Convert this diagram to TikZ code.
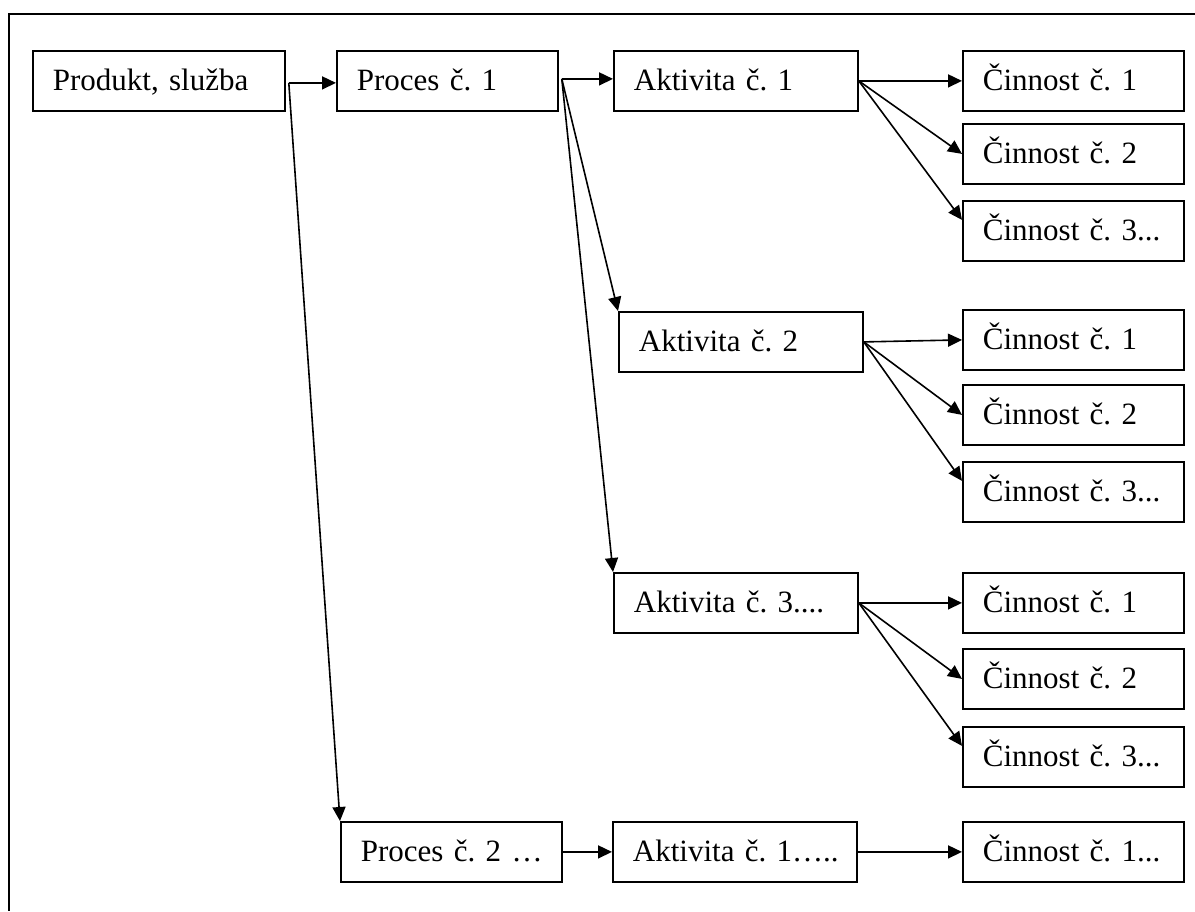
\documentclass[tikz,border=0pt]{standalone}
\usepackage{fontspec}
\setmainfont{Liberation Serif}
\usetikzlibrary{arrows.meta,calc}
\newcommand{\boxfont}{\fontsize{31}{36}\selectfont\frenchspacing}
\tikzset{
  bx/.style={draw, line width=1.8pt, anchor=north west, inner xsep=20pt,
    inner ysep=0pt, text height=40pt, text depth=20pt, align=left,
    font=\boxfont},
  wp/.style={bx, text width=212pt},
  wa/.style={bx, text width=204pt},
  wc/.style={bx, text width=181pt},
  link/.style={line width=1.6pt, -{Triangle[length=14pt,width=13pt]}},
  frame/.style={line width=2.4pt}
}
\begin{document}
\begin{tikzpicture}[x=1pt,y=-1pt]
\useasboundingbox (0,0) rectangle (1195,911);
% outer frame: top and left edges
\coordinate (ftop) at (1195,14);
\coordinate (fcorner) at (9,14);
\coordinate (fbottom) at (9,911);
\draw[frame] (ftop) -- (fcorner) -- (fbottom);

% product / processes
\node[wp] (prod) at (32,50) {Produkt, služba};
\node[wc] (proc1) at (336,50) {Proces~č.~1};
\node[wc] (proc2) at (340,821) {Proces~č.~2~…};

% activities
\node[wa] (akt1) at (613,50) {Aktivita~č.~1};
\node[wa] (akt2) at (618,311) {Aktivita~č.~2};
\node[wa] (akt3) at (613,572) {Aktivita~č.~3....};
\node[wa] (akt4) at (612,821) {Aktivita~č.~1…..};

% tasks
\node[wc] (c11) at (962,50) {Činnost~č.~1};
\node[wc] (c12) at (962,123) {Činnost~č.~2};
\node[wc] (c13) at (962,200) {Činnost~č.~3...};
\node[wc] (c21) at (962,309) {Činnost~č.~1};
\node[wc] (c22) at (962,384) {Činnost~č.~2};
\node[wc] (c23) at (962,461) {Činnost~č.~3...};
\node[wc] (c31) at (962,572) {Činnost~č.~1};
\node[wc] (c32) at (962,648) {Činnost~č.~2};
\node[wc] (c33) at (962,726) {Činnost~č.~3...};
\node[wc] (c41) at (962,821) {Činnost~č.~1...};

% branching points
\coordinate (pj) at ($(prod.east)+(3,2)$);
\coordinate (qj) at ($(proc1.east)+(3,-2)$);

% connectors
\draw[link] (pj) -- (pj -| proc1.west);
\draw[link] (pj) -- (proc2.north west);
\draw[link] (qj) -- (qj -| akt1.west);
\draw[link] (qj) -- (akt2.north west);
\draw[link] (qj) -- (akt3.north west);
\draw[link] (proc2) -- (akt4);

\foreach \a/\g in {akt1/1, akt2/2, akt3/3}{
  \draw[link] (\a.east) -- (c\g1.west);
  \draw[link] (\a.east) -- (c\g2.west);
  \draw[link] (\a.east) -- ($(c\g3.west)+(0,-11)$);
}
\draw[link] (akt4) -- (c41);
\end{tikzpicture}
\end{document}
